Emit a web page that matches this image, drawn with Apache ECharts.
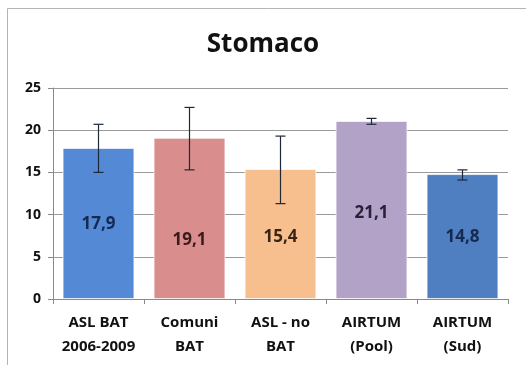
<!DOCTYPE html>
<html>
<head>
<meta charset="utf-8">
<script src="https://cdn.jsdelivr.net/npm/echarts@6/dist/echarts.min.js"></script>
<style>
html,body{margin:0;padding:0;background:#fff;}
#chart{width:526px;height:365px;}
</style>
</head>
<body>
<div id="chart"></div>
<script>
// categorie e valori (tasso stomaco)
var categories = ['ASL BAT\n2006-2009', 'Comuni\nBAT', 'ASL - no\nBAT', 'AIRTUM\n(Pool)', 'AIRTUM\n(Sud)'];
var values = [17.9, 19.1, 15.4, 21.1, 14.8];
var valueLabels = ['17,9', '19,1', '15,4', '21,1', '14,8'];
// intervalli di confidenza
var errLow = [15.0, 15.3, 11.3, 20.7, 14.1];
var errHigh = [20.7, 22.7, 19.3, 21.4, 15.3];
var yTicks = [0, 5, 10, 15, 20, 25];

var barColors = ['#5489d6', '#d98d8d', '#f8bf8e', '#b2a2c8', '#4f7fc1'];
var labelColors = ['#142a50', '#3a1c1c', '#3a2414', '#2a2038', '#142a50'];
var labelShift = [1, 22, 3, 3, 1];

var font = '"Open Sans", Lato, sans-serif';

var barData = values.map(function (v, i) {
    return {
        value: v,
        itemStyle: {color: barColors[i]},
        label: {
            formatter: valueLabels[i],
            color: labelColors[i],
            offset: [0, labelShift[i]]
        }
    };
});

var errData = errLow.map(function (lo, i) {
    return [i, lo, errHigh[i]];
});

var option = {
    backgroundColor: '#fff',
    animation: false,
    graphic: [{
        type: 'rect',
        shape: {x: 7.5, y: 8.5, width: 540, height: 380},
        style: {fill: 'none', stroke: '#b4b4b4', lineWidth: 1}
    }],
    title: {
        text: 'Stomaco',
        left: 'center',
        top: 27,
        textStyle: {fontFamily: font, fontSize: 26, fontWeight: 'bold', color: '#111'}
    },
    grid: {left: 53, right: 18, top: 88, bottom: 66},
    xAxis: {
        type: 'category',
        data: categories,
        axisLine: {lineStyle: {color: '#8a8a8a'}},
        axisTick: {show: true, length: 5, lineStyle: {color: '#8a8a8a'}},
        axisLabel: {
            fontFamily: font, fontSize: 15, fontWeight: 'bold', color: '#111',
            lineHeight: 24, margin: 12, interval: 0, hideOverlap: false
        }
    },
    yAxis: {
        type: 'value',
        min: yTicks[0],
        max: yTicks[yTicks.length - 1],
        interval: yTicks[1] - yTicks[0],
        axisLine: {show: true, lineStyle: {color: '#8a8a8a'}},
        axisTick: {show: true, length: 5, lineStyle: {color: '#8a8a8a'}},
        splitLine: {lineStyle: {color: '#9a9a9a'}},
        axisLabel: {fontFamily: font, fontSize: 14, fontWeight: 'bold', color: '#111', margin: 12}
    },
    series: [{
        type: 'bar',
        data: barData,
        barCategoryGap: '21%',
        itemStyle: {borderColor: 'rgba(255,255,255,0.7)', borderWidth: 1},
        label: {
            show: true,
            position: 'inside',
            fontFamily: font, fontSize: 17, fontWeight: 'bold'
        }
    }, {
        type: 'custom',
        data: errData,
        z: 10,
        renderItem: function (params, api) {
            var x = api.value(0);
            var top = api.coord([x, api.value(2)]);
            var bot = api.coord([x, api.value(1)]);
            var half = 5;
            var st = {stroke: '#1e2836', lineWidth: 1.2};
            return {
                type: 'group',
                children: [
                    {type: 'line', shape: {x1: top[0], y1: top[1], x2: bot[0], y2: bot[1]}, style: st},
                    {type: 'line', shape: {x1: top[0] - half, y1: top[1], x2: top[0] + half, y2: top[1]}, style: st},
                    {type: 'line', shape: {x1: bot[0] - half, y1: bot[1], x2: bot[0] + half, y2: bot[1]}, style: st}
                ]
            };
        }
    }]
};

var myChart = echarts.init(document.getElementById('chart'));
myChart.setOption(option);
</script>
</body>
</html>
